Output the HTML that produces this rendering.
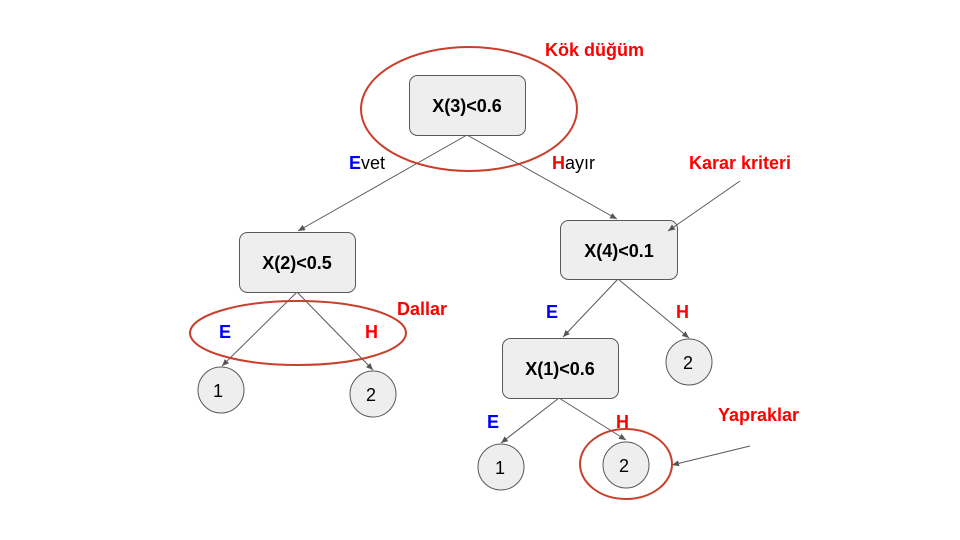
<!DOCTYPE html>
<html><head><meta charset="utf-8"><style>html,body{margin:0;padding:0;background:#fff}svg{display:block}</style></head>
<body>
<svg width="960" height="540" viewBox="0 0 960 540" xmlns="http://www.w3.org/2000/svg" font-family="Liberation Sans, Arial, sans-serif">
<defs><marker id="a" markerWidth="8" markerHeight="8" refX="7" refY="4" orient="auto" markerUnits="userSpaceOnUse"><path d="M0,1 L7,4 L0,7 Z" fill="#555"/></marker></defs>
<g stroke="#595959" stroke-width="1" fill="none" marker-end="url(#a)">
<line x1="467" y1="135" x2="298" y2="231"/>
<line x1="467" y1="135" x2="617" y2="219"/>
<line x1="297" y1="292" x2="222" y2="366"/>
<line x1="297" y1="292" x2="373" y2="370"/>
<line x1="618" y1="279" x2="563" y2="337"/>
<line x1="618" y1="279" x2="689" y2="338"/>
<line x1="559" y1="398" x2="501" y2="443"/>
<line x1="559" y1="398" x2="626" y2="440"/>
</g>
<g fill="#eeeeee" stroke="#595959" stroke-width="1">
<rect x="409.5" y="75.5" width="116" height="60" rx="8"/>
<rect x="239.5" y="232.5" width="116" height="60" rx="8"/>
<rect x="560.5" y="220.5" width="117" height="59" rx="8"/>
<rect x="502.5" y="338.5" width="116" height="60" rx="8"/>
<circle cx="221" cy="390" r="23"/>
<circle cx="373" cy="394" r="23"/>
<circle cx="689" cy="362" r="23"/>
<circle cx="501" cy="467" r="23"/>
<circle cx="626" cy="465" r="23"/>
</g>
<g stroke="#595959" stroke-width="1" fill="none" marker-end="url(#a)">
<line x1="740" y1="181" x2="668" y2="231"/>
<line x1="750" y1="446" x2="672" y2="465"/>
</g>
<g fill="none" stroke="#c8402c" stroke-width="2">
<ellipse cx="469" cy="109" rx="108" ry="62"/>
<ellipse cx="298" cy="333" rx="108" ry="32"/>
<ellipse cx="626" cy="464" rx="46" ry="35"/>
</g>
<g font-weight="bold" font-size="18" text-anchor="middle" fill="#000">
<text x="467" y="112">X(3)&lt;0.6</text>
<text x="297" y="269">X(2)&lt;0.5</text>
<text x="619" y="257">X(4)&lt;0.1</text>
<text x="560" y="375">X(1)&lt;0.6</text>
</g>
<g font-size="18" text-anchor="middle" fill="#000">
<text x="218" y="397">1</text>
<text x="371" y="401">2</text>
<text x="688" y="369">2</text>
<text x="500" y="474">1</text>
<text x="624" y="472">2</text>
</g>
<g font-size="18">
<text x="349" y="169"><tspan fill="#0000ff" font-weight="bold">E</tspan><tspan fill="#000">vet</tspan></text>
<text x="552" y="169"><tspan fill="#ff0000" font-weight="bold">H</tspan><tspan fill="#000">ayır</tspan></text>
</g>
<g font-size="18" font-weight="bold">
<text x="545" y="56" fill="#ff0000">Kök düğüm</text>
<text x="689" y="169" fill="#ff0000">Karar kriteri</text>
<text x="397" y="315" fill="#ff0000">Dallar</text>
<text x="718" y="421" fill="#ff0000">Yapraklar</text>
<text x="219" y="338" fill="#0000ff">E</text>
<text x="365" y="338" fill="#ff0000">H</text>
<text x="546" y="318" fill="#0000ff">E</text>
<text x="676" y="318" fill="#ff0000">H</text>
<text x="487" y="428" fill="#0000ff">E</text>
<text x="616" y="428" fill="#ff0000">H</text>
</g>
</svg>
</body></html>
